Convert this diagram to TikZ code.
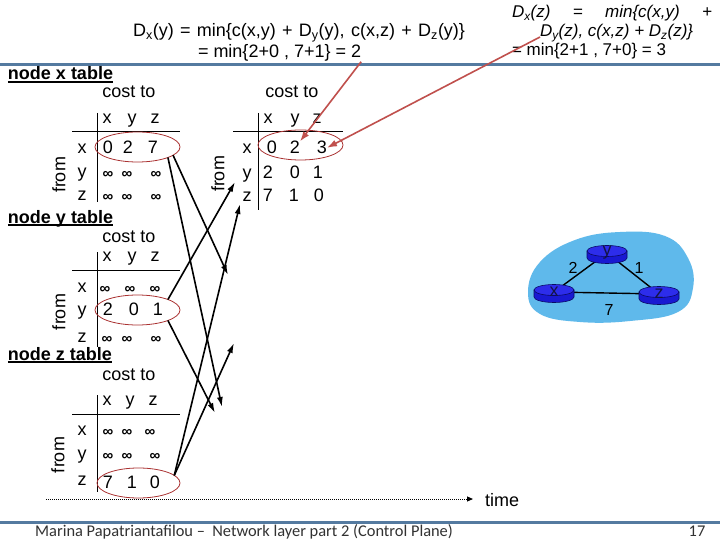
\documentclass[tikz,border=0pt]{standalone}
\usepackage{fontspec}
\setmainfont{Liberation Sans}
\newfontfamily\footfont{Carlito}
\usetikzlibrary{arrows.meta,shapes.geometric,backgrounds}
\definecolor{slideblue}{RGB}{84,122,160}
\definecolor{redarrow}{RGB}{192,80,77}
\definecolor{ellred}{RGB}{170,50,50}
\definecolor{cloudblue}{RGB}{95,185,235}
\definecolor{routerblue}{RGB}{25,25,210}
\definecolor{routertop}{RGB}{45,45,235}
\definecolor{routerline}{RGB}{10,10,100}
\definecolor{footgray}{RGB}{50,50,50}
\newcommand\myul[1]{\setbox0\hbox{#1}\rlap{\rule[-2.8pt]{\wd0}{1.4pt}}\box0}
\newcommand\routerdraw[2]{%
  \filldraw[fill=routerblue, draw=routerline, line width=0.6pt]
    (#1-20,#2-3) -- (#1-20,#2+4) arc[start angle=180, end angle=0, x radius=20, y radius=5.5] -- (#1+20,#2-3) -- cycle;
  \filldraw[fill=routertop, draw=routerline, line width=0.6pt] (#1,#2-3) ellipse[x radius=20, y radius=5.5];
}
\tikzset{
  big/.style={font=\fontsize{18}{21}\selectfont, inner sep=0pt, outer sep=0pt},
  rtxt/.style={font=\fontsize{17}{20}\selectfont, inner sep=0pt, outer sep=0pt, anchor=base west},
  num/.style={big, anchor=base},
  inf/.style={font=\fontsize{15}{16}\selectfont\bfseries, inner sep=0pt, outer sep=0pt, anchor=base},
  head/.style={font=\fontsize{18}{21}\selectfont\bfseries, inner sep=0pt, outer sep=0pt, anchor=base west},
  rowell/.style={ellipse, draw=ellred, line width=0.8pt, minimum width=85pt, minimum height=30pt, inner sep=0pt, outer sep=0pt},
  tline/.style={line width=1pt, black},
  msg/.style={line width=1.6pt, -{Latex[length=10pt,width=6pt]}},
  redmsg/.style={redarrow, line width=1.6pt, -{Latex[length=10pt,width=7pt]}},
  fromlbl/.style={big, rotate=90},
  rlbl/.style={font=\fontsize{18}{21}\selectfont, text={rgb,255:red,20;green,20;blue,70}, inner sep=0pt},
  elbl/.style={font=\fontsize{16}{18}\selectfont, inner sep=0pt},
  foot/.style={inner sep=0pt, font=\footfont\fontsize{16.4}{19}\selectfont, text=footgray},
}
\begin{document}
\begin{tikzpicture}[x=1pt,y=-1pt]
\begin{scope}[on background layer]
\fill[white] (0,0) rectangle (720,540);
\end{scope}
\useasboundingbox (0,0) rectangle (720,540);

% slide rules
\draw[slideblue, line width=3pt] (0,65) -- (720,65);
\draw[slideblue, line width=3pt] (0,522) -- (720,522);

% formulas
\node[big, anchor=base west] (t1) at (133,37) {\makebox[332pt][s]{D\textsubscript{x}(y) = min\{c(x,y) + D\textsubscript{y}(y), c(x,z) + D\textsubscript{z}(y)\}}};
\node[big, anchor=base west] (t2) at (198,58) {= min\{2+0 , 7+1\} = 2};
\node[rtxt] (r1) at (512,18) {\makebox[200pt][s]{\itshape D\textsubscript{x}(z) = min\{c(x,y) +}};
\node[rtxt] (r2) at (540,37) {\itshape D\textsubscript{y}(z), c(x,z) + D\textsubscript{z}(z)\}};
\node[rtxt] (r3) at (512,56) {= min\{2+1 , 7+0\} = 3};

% ---- table A: node x
\node[head] (a-title) at (8,80) {\myul{node x table}};
\node[num] (a-cost) at (129,98) {cost to};
\foreach \c/\t [count=\i] in {107/x,132/y,155/z} \node[num] (a-h\i) at (\c,124) {\t};
\foreach \r/\b [count=\i] in {x/154,y/178,z/201} \node[num] (a-r\i) at (82,\b) {\r};
\foreach \c/\t [count=\i] in {108/0,128/2,153/7} \node[num] (a-1-\i) at (\c,154) {\t};
\foreach \c [count=\i] in {108,127,156} \node[inf] (a-2-\i) at (\c,179) {∞};
\foreach \c [count=\i] in {108,127,156} \node[inf] (a-3-\i) at (\c,202) {∞};
\draw[tline] (97,113) -- (97,202);
\draw[tline] (72,132) -- (180,132);
\node[fromlbl] (a-from) at (59,175) {from};
\node[rowell] (a-ell) at (137.5,147) {};

% ---- table B: node x, updated
\node[num] (b-cost) at (292,98) {cost to};
\foreach \c/\t [count=\i] in {268/x,295/y,317/z} \node[num] (b-h\i) at (\c,124) {\t};
\foreach \r/\b [count=\i] in {x/154,y/179,z/202} \node[num] (b-r\i) at (247,\b) {\r};
\foreach \c/\t [count=\i] in {272/0,295/2,322/3} \node[num] (b-1-\i) at (\c,154) {\t};
\foreach \c/\t [count=\i] in {268/2,295/0,318/1} \node[num] (b-2-\i) at (\c,179) {\t};
\foreach \c/\t [count=\i] in {268/7,294/1,319/0} \node[num] (b-3-\i) at (\c,202) {\t};
\draw[tline] (258,113) -- (258,210);
\draw[tline] (233,132) -- (343,132);
\node[fromlbl] (b-from) at (218,174) {from};
\node[rowell] (b-ell) at (300.5,145) {};

% ---- table C: node y
\node[head] (c-title) at (8,223) {\myul{node y table}};
\node[num] (c-cost) at (129,242) {cost to};
\foreach \c/\t [count=\i] in {107/x,132/y,155/z} \node[num] (c-h\i) at (\c,261) {\t};
\foreach \r/\b [count=\i] in {x/292,y/315,z/342} \node[num] (c-r\i) at (82,\b) {\r};
\foreach \c [count=\i] in {105,130,155} \node[inf] (c-1-\i) at (\c,293) {∞};
\foreach \c/\t [count=\i] in {108/2,134/0,158/1} \node[num] (c-2-\i) at (\c,315) {\t};
\foreach \c [count=\i] in {107,127,156} \node[inf] (c-3-\i) at (\c,343) {∞};
\draw[tline] (97,252) -- (97,347);
\draw[tline] (72,270) -- (180,270);
\node[fromlbl] (c-from) at (59,312) {from};
\node[rowell] (c-ell) at (137.5,310) {};

% ---- table D: node z
\node[head] (d-title) at (8,360) {\myul{node z table}};
\node[num] (d-cost) at (129,380) {cost to};
\foreach \c/\t [count=\i] in {107/x,130/y,153/z} \node[num] (d-h\i) at (\c,405) {\t};
\foreach \r/\b [count=\i] in {x/435,y/459,z/485} \node[num] (d-r\i) at (82,\b) {\r};
\foreach \c [count=\i] in {108,127,150} \node[inf] (d-1-\i) at (\c,436) {∞};
\foreach \c [count=\i] in {108,127,155} \node[inf] (d-2-\i) at (\c,460) {∞};
\foreach \c/\t [count=\i] in {108/7,132/1,155/0} \node[num] (d-3-\i) at (\c,488) {\t};
\draw[tline] (97,395) -- (97,492);
\draw[tline] (72,414) -- (180,414);
\node[fromlbl] (d-from) at (58,455) {from};
\node[rowell, minimum width=83pt] (d-ell) at (138.5,483) {};

% ---- message arrows
\coordinate (ty1) at (228,275);
\coordinate (tz1) at (222,407);
\coordinate (tx1) at (235,182);
\coordinate (tz2) at (215,413);
\coordinate (tx2) at (240,204);
\coordinate (ty2) at (234,343);
\draw[msg] (a-ell.-13) -- (ty1);
\draw[msg] (a-ell.-19) -- (tz1);
\draw[msg] (c-ell.19) -- (tx1);
\draw[msg] (c-ell.-19) -- (tz2);
\draw[msg] (d-ell.12) -- (tx2);
\draw[msg] (d-ell.12) -- (ty2);

% red arrows
\draw[redmsg] (t2.south east) -- (b-1-2.north east);
\draw[redmsg] (r2.base west) -- (b-1-3.east);

% time axis
\node[big, anchor=base west] (time) at (485,506) {time};
\coordinate (tstart) at (46,499);
\draw[densely dotted, line width=1pt, -{Triangle[length=6pt,width=5pt]}, shorten >=12pt] (tstart) -- (time.west |- tstart);

% ---- network
\node[rlbl] (rx) at (554,292) {x};
\node[rlbl] (ry) at (607,253) {y};
\node[rlbl] (rz) at (659,294) {z};
\begin{scope}[on background layer]
\fill[cloudblue] plot[smooth cycle, tension=0.7] coordinates {(528,292) (540,262) (575,240) (620,232) (665,236) (688,258) (693,288) (678,312) (630,321) (580,322) (540,314)};
\draw[line width=1.4pt] (rx) -- (ry);
\draw[line width=1.4pt] (ry) -- (rz);
\draw[line width=1.4pt] (rx) -- (rz);
\end{scope}
\routerdraw{554}{293}
\routerdraw{607}{254}
\routerdraw{659}{295}
\node[rlbl] at (rx) {x};
\node[rlbl] at (ry) {y};
\node[rlbl] at (rz) {z};
\node[elbl] (l2) at (573,268) {2};
\node[elbl] (l1) at (639,268) {1};
\node[elbl] (l7) at (609,310) {7};

% footer
\node[foot, anchor=base west] (foot) at (35,536) {Marina Papatriantafilou –\ \ Network layer part 2 (Control Plane)};
\node[foot, anchor=base] (pg) at (697,536) {17};
\end{tikzpicture}
\end{document}
